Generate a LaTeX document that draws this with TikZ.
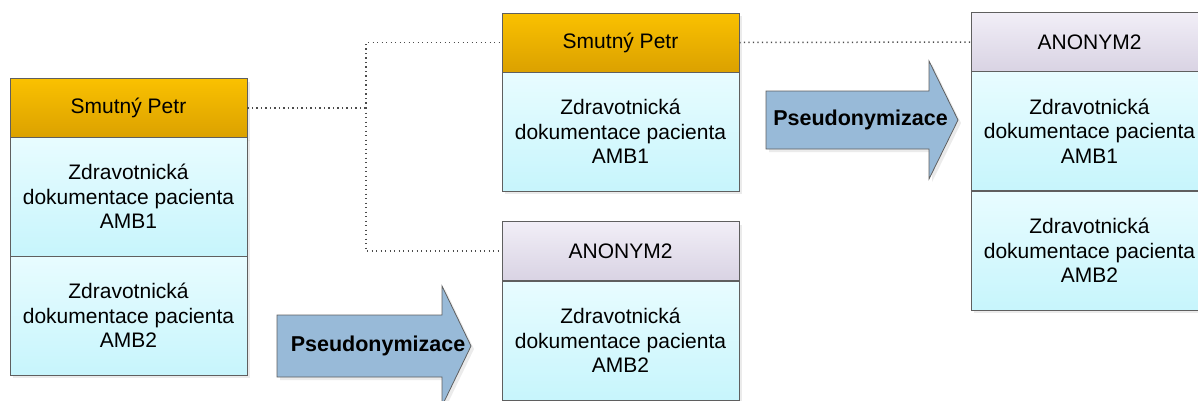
\documentclass[tikz,border=0pt]{standalone}
\usepackage{fontspec}
\setmainfont{Liberation Sans}
\usetikzlibrary{shadows}

\definecolor{orTop}{RGB}{250,193,0}
\definecolor{orBot}{RGB}{219,161,0}
\definecolor{cyTop}{RGB}{232,252,255}
\definecolor{cyBot}{RGB}{199,245,252}
\definecolor{lvTop}{RGB}{241,238,247}
\definecolor{lvBot}{RGB}{217,211,227}
\definecolor{arFill}{RGB}{152,186,216}
\definecolor{edge}{RGB}{95,95,95}
\definecolor{shade}{RGB}{215,215,215}

\tikzset{
  sect/.style={rectangle, draw=edge, line width=0.9pt, minimum width=237pt,
    inner sep=0pt, align=center,
    font=\fontsize{21}{24.5}\selectfont,
    drop shadow={shadow xshift=3pt, shadow yshift=-3pt, fill=shade, draw=none}},
  hdrown/.style={sect, minimum height=59pt, top color=orTop, bottom color=orBot},
  hdranon/.style={sect, minimum height=59pt, top color=lvTop, bottom color=lvBot},
  doc/.style={sect, minimum height=119pt, top color=cyTop, bottom color=cyBot},
  link/.style={draw=black!70, line width=1.5pt, dash pattern=on 1.2pt off 3.3pt},
  bigarrow/.style={draw=edge, line width=0.8pt, fill=arFill,
    drop shadow={shadow xshift=3pt, shadow yshift=-3pt, fill=shade, draw=none}},
  arrowtext/.style={font=\fontsize{21.5}{24}\selectfont\bfseries, inner sep=0pt}
}

\begin{document}
\begin{tikzpicture}[x=1pt,y=-1pt]
\useasboundingbox (0,0) rectangle (1198,400);
\clip (0,0) rectangle (1198,400);

% original record
\node[hdrown] (L0) at (128.5,108) {Smutný Petr};
\node[doc] (L1) at (128.5,196.5) {Zdravotnická\\dokumentace pacienta\\AMB1};
\node[doc] (L2) at (128.5,315.5) {Zdravotnická\\dokumentace pacienta\\AMB2};

% split records
\node[hdrown] (M0) at (620.5,42.5) {Smutný Petr};
\node[doc] (M1) at (620.5,131.5) {Zdravotnická\\dokumentace pacienta\\AMB1};

\node[hdranon] (N0) at (620.5,251) {ANONYM2};
\node[doc] (N1) at (620.5,340.5) {Zdravotnická\\dokumentace pacienta\\AMB2};

% merged pseudonymised record
\node[hdranon] (R0) at (1089.5,42) {ANONYM2};
\node[doc] (R1) at (1089.5,131) {Zdravotnická\\dokumentace pacienta\\AMB1};
\node[doc] (R2) at (1089.5,250.5) {Zdravotnická\\dokumentace pacienta\\AMB2};

% dotted links
\draw[link] (L0.east) -- (366,108) coordinate (J);
\draw[link] (J) |- (M0.west);
\draw[link] (J) |- (N0.west);
\draw[link] (M0.east) -- (R0.west);

% process arrows
\path[bigarrow] (277,315) -- (442,315) -- (442,286) -- (471,346) -- (442,406)
  -- (442,377) -- (277,377) -- cycle;
\node[arrowtext] (P1) at (378,346) {Pseudonymizace};

\path[bigarrow] (766,91) -- (929,91) -- (929,61) -- (958,120) -- (929,179)
  -- (929,149) -- (766,149) -- cycle;
\node[arrowtext] (P2) at (860.5,120) {Pseudonymizace};
\end{tikzpicture}
\end{document}
